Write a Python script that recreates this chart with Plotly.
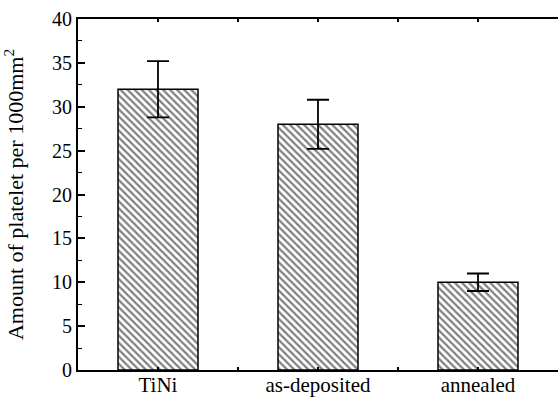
import plotly.graph_objects as go

categories = ["TiNi", "as-deposited", "annealed"]
values = [32.0, 28.0, 10.0]
errors = [3.2, 2.8, 1.0]
y_ticks = [0, 5, 10, 15, 20, 25, 30, 35, 40]

xpos = list(range(len(categories)))

fig = go.Figure()
fig.add_trace(go.Bar(
    x=xpos, y=values, width=0.5,
    marker=dict(color="white",
                line=dict(color="black", width=1.5),
                pattern=dict(shape="\\", fgcolor="black", bgcolor="white",
                             size=5, solidity=0.45)),
    error_y=dict(type="data", array=errors, visible=True,
                 color="black", thickness=1.8, width=11),
    showlegend=False,
))

serif = "Liberation Serif, Times New Roman, serif"
tick_font = dict(family=serif, size=20, color="black")
xtick_font = dict(family=serif, size=21, color="black")
title_font = dict(family=serif, size=22, color="black")

fig.update_layout(
    width=558, height=397,
    margin=dict(l=78, r=0, t=19, b=27),
    plot_bgcolor="white", paper_bgcolor="white",
    font=tick_font,
    xaxis=dict(range=[-0.5, 2.5], tickvals=xpos, ticktext=categories,
               automargin=False, ticklabelstandoff=-5,
               showline=True, linecolor="black", linewidth=2, mirror="ticks",
               ticks="inside", ticklen=3, tickwidth=1.5, tickcolor="black",
               minor=dict(tickvals=[0.5, 1.5], ticks="inside", ticklen=3,
                          tickcolor="black", tickwidth=1.5, showgrid=False),
               showgrid=False, zeroline=False, tickfont=xtick_font),
    yaxis=dict(range=[0, 40], tickvals=y_ticks, automargin=False,
               showline=True, linecolor="black", linewidth=2,
               ticks="inside", ticklen=7, tickwidth=1.5, tickcolor="black",
               minor=dict(dtick=2.5, ticks="inside", ticklen=4,
                          tickcolor="black", tickwidth=1, showgrid=False),
               showgrid=False, zeroline=False, tickfont=tick_font,
               title=dict(text="Amount of platelet per 1000mm<sup>2</sup>",
                          font=title_font, standoff=24)),
)

fig.write_html("out.html", config={"displayModeBar": False},
               post_script="document.body.style.margin='0';document.body.style.overflow='hidden';")
